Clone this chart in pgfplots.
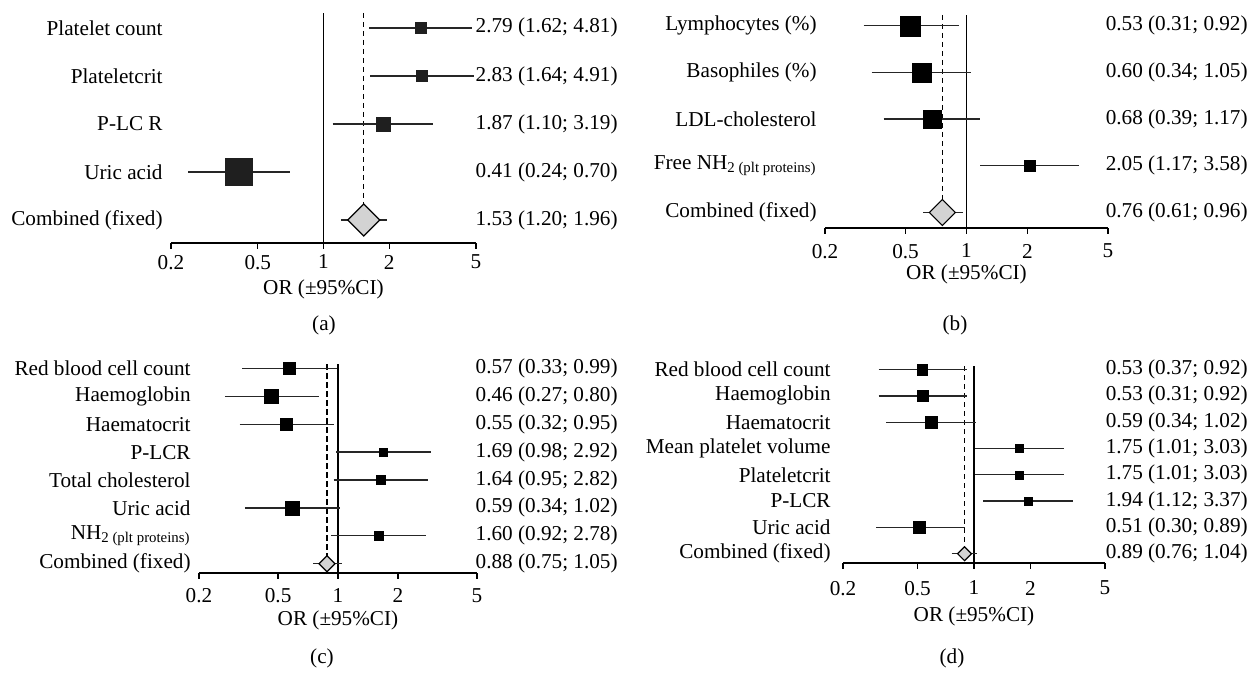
\documentclass[border=0pt]{standalone}
\usepackage{fontspec}
\setmainfont{Liberation Serif}
\usepackage{pgfplots}
\pgfplotsset{compat=1.18}
\definecolor{dia}{RGB}{211,211,211}
\colorlet{sq}{black}
\newcommand{\ff}{\fontsize{10.6}{12.5}\selectfont}
\newcommand{\frow}[5]{%
  \addplot[black!85, line width=0.65pt, mark=none] coordinates {(#3,#1) (#4,#1)};
  \addplot[only marks, mark=square*, mark size=#5, mark options={fill=sq, draw=sq, line width=0.2pt}] coordinates {(#2,#1)};
}
\newcommand{\fcomb}[5]{%
  \addplot[black!85, line width=0.65pt, mark=none] coordinates {(#3,#1) (#4,#1)};
  \addplot[only marks, mark=square*, mark size=#5, mark options={rotate=45, fill=dia, draw=black, line width=0.6pt}] coordinates {(#2,#1)};
}
\newcommand{\frefs}[3]{%
  \addplot[black, line width=0.65pt, mark=none] coordinates {(1,#2) (1,#3)};
  \addplot[black, line width=0.7pt, mark=none, dash pattern=on 2.6pt off 1.9pt] coordinates {(#1,#3) (#1,1)};
}
\begin{document}
\begin{tikzpicture}[font=\ff]
\useasboundingbox (0,0) rectangle (630pt,336.5pt);
% ---------- (a)
\colorlet{sq}{black!88}
\begin{axis}[scale only axis, xmode=log, xmin=0.2, xmax=5,
  xtick={0.2,0.5,1,2,5}, xticklabels={0.2,0.5,1,2,5},
  axis x line*=bottom, axis y line*=left,
  x axis line style={line width=0.65pt,-}, y axis line style={draw=none},
  ytick style={draw=none}, xtick style={line width=0.65pt, black},
  major tick length=2.8pt, xtick align=outside, clip=false, anchor=south west,
  yticklabel style={anchor=east, inner sep=0pt, xshift=-4pt},
  xticklabel style={anchor=north, inner sep=0pt, yshift=-3.0pt},
  xlabel={OR (±95\%CI)},
  xlabel style={at={(axis description cs:0.5,0)}, anchor=center, inner sep=0pt, yshift=-23pt},
  at={(85.5pt,215pt)}, width=152.5pt, height=115pt,
  ymin=0.521, ymax=5.31, ytick={1,2,3,4,5},
  yticklabels={Combined (fixed), Uric acid, P-LC R, Plateletcrit, Platelet count}]
\frefs{1.53}{0.521}{5.31}
\frow{5}{2.79}{1.62}{4.81}{2.75}
\frow{4}{2.83}{1.64}{4.91}{2.75}
\frow{3}{1.87}{1.10}{3.19}{3.5}
\frow{2}{0.41}{0.24}{0.70}{6.75}
\fcomb{1}{1.53}{1.20}{1.96}{5.66}
\node[anchor=east, inner sep=0pt] at (axis cs:22.38,5) {2.79 (1.62; 4.81)};
\node[anchor=east, inner sep=0pt] at (axis cs:22.38,4) {2.83 (1.64; 4.91)};
\node[anchor=east, inner sep=0pt] at (axis cs:22.38,3) {1.87 (1.10; 3.19)};
\node[anchor=east, inner sep=0pt] at (axis cs:22.38,2) {0.41 (0.24; 0.70)};
\node[anchor=east, inner sep=0pt] at (axis cs:22.38,1) {1.53 (1.20; 1.96)};
\end{axis}
% ---------- (b)
\colorlet{sq}{black}
\begin{axis}[scale only axis, xmode=log, xmin=0.2, xmax=5,
  xtick={0.2,0.5,1,2,5}, xticklabels={0.2,0.5,1,2,5},
  axis x line*=bottom, axis y line*=left,
  x axis line style={line width=0.65pt,-}, y axis line style={draw=none},
  ytick style={draw=none}, xtick style={line width=0.65pt, black},
  major tick length=2.8pt, xtick align=outside, clip=false, anchor=south west,
  yticklabel style={anchor=east, inner sep=0pt, xshift=-4pt},
  xticklabel style={anchor=north, inner sep=0pt, yshift=-5.0pt},
  xlabel={OR (±95\%CI)},
  xlabel style={at={(axis description cs:0.5,0)}, anchor=center, inner sep=0pt, yshift=-23pt},
  at={(412.5pt,222.5pt)}, width=141.5pt, height=106.5pt,
  ymin=0.668, ymax=5.23, ytick={1,2,3,4,5},
  yticklabels={Combined (fixed), Free NH\textsubscript{2 (plt proteins)}, LDL-cholesterol, Basophiles (\%), Lymphocytes (\%)}]
\frefs{0.76}{0.668}{5.23}
\frow{5}{0.53}{0.31}{0.92}{5}
\frow{4}{0.60}{0.34}{1.05}{4.75}
\frow{3}{0.68}{0.39}{1.17}{4.5}
\frow{2}{2.05}{1.17}{3.58}{2.75}
\fcomb{1}{0.76}{0.61}{0.96}{4.6}
\node[anchor=east, inner sep=0pt] at (axis cs:24.6,5) {0.53 (0.31; 0.92)};
\node[anchor=east, inner sep=0pt] at (axis cs:24.6,4) {0.60 (0.34; 1.05)};
\node[anchor=east, inner sep=0pt] at (axis cs:24.6,3) {0.68 (0.39; 1.17)};
\node[anchor=east, inner sep=0pt] at (axis cs:24.6,2) {2.05 (1.17; 3.58)};
\node[anchor=east, inner sep=0pt] at (axis cs:24.6,1) {0.76 (0.61; 0.96)};
\end{axis}
% ---------- (c)
\begin{axis}[scale only axis, xmode=log, xmin=0.2, xmax=5,
  xtick={0.2,0.5,1,2,5}, xticklabels={0.2,0.5,1,2,5},
  axis x line*=bottom, axis y line*=left,
  x axis line style={line width=0.65pt,-}, y axis line style={draw=none},
  ytick style={draw=none}, xtick style={line width=0.65pt, black},
  major tick length=2.8pt, xtick align=outside, clip=false, anchor=south west,
  yticklabel style={anchor=east, inner sep=0pt, xshift=-4pt},
  xticklabel style={anchor=north, inner sep=0pt, yshift=-4.6pt},
  xlabel={OR (±95\%CI)},
  xlabel style={at={(axis description cs:0.5,0)}, anchor=center, inner sep=0pt, yshift=-23.8pt},
  at={(99.5pt,50pt)}, width=139pt, height=104.25pt,
  ymin=0.667, ymax=8.14, ytick={1,...,8},
  yticklabels={Combined (fixed), NH\textsubscript{2 (plt proteins)}, Uric acid, Total cholesterol, P-LCR, Haematocrit, Haemoglobin, Red blood cell count}]
\frefs{0.88}{0.667}{8.14}
\frow{8}{0.57}{0.33}{0.99}{2.9}
\frow{7}{0.46}{0.27}{0.80}{3.6}
\frow{6}{0.55}{0.32}{0.95}{3.1}
\frow{5}{1.69}{0.98}{2.92}{2.1}
\frow{4}{1.64}{0.95}{2.82}{2.25}
\frow{3}{0.59}{0.34}{1.02}{3.6}
\frow{2}{1.60}{0.92}{2.78}{2.4}
\fcomb{1}{0.88}{0.75}{1.05}{2.83}
\node[anchor=east, inner sep=0pt] at (axis cs:25.6,8) {0.57 (0.33; 0.99)};
\node[anchor=east, inner sep=0pt] at (axis cs:25.6,7) {0.46 (0.27; 0.80)};
\node[anchor=east, inner sep=0pt] at (axis cs:25.6,6) {0.55 (0.32; 0.95)};
\node[anchor=east, inner sep=0pt] at (axis cs:25.6,5) {1.69 (0.98; 2.92)};
\node[anchor=east, inner sep=0pt] at (axis cs:25.6,4) {1.64 (0.95; 2.82)};
\node[anchor=east, inner sep=0pt] at (axis cs:25.6,3) {0.59 (0.34; 1.02)};
\node[anchor=east, inner sep=0pt] at (axis cs:25.6,2) {1.60 (0.92; 2.78)};
\node[anchor=east, inner sep=0pt] at (axis cs:25.6,1) {0.88 (0.75; 1.05)};
\end{axis}
% ---------- (d)
\begin{axis}[scale only axis, xmode=log, xmin=0.2, xmax=5,
  xtick={0.2,0.5,1,2,5}, xticklabels={0.2,0.5,1,2,5},
  axis x line*=bottom, axis y line*=left,
  x axis line style={line width=0.65pt,-}, y axis line style={draw=none},
  ytick style={draw=none}, xtick style={line width=0.65pt, black},
  major tick length=2.8pt, xtick align=outside, clip=false, anchor=south west,
  yticklabel style={anchor=east, inner sep=0pt, xshift=-6pt},
  xticklabel style={anchor=north, inner sep=0pt, yshift=-6.0pt},
  xlabel={OR (±95\%CI)},
  xlabel style={at={(axis description cs:0.5,0)}, anchor=center, inner sep=0pt, yshift=-26.5pt},
  at={(421.5pt,55pt)}, width=131pt, height=98.35pt,
  ymin=0.646, ymax=8.125, ytick={1,...,8},
  yticklabels={Combined (fixed), Uric acid, P-LCR, Plateletcrit, Mean platelet volume, Haematocrit, Haemoglobin, Red blood cell count}]
\frefs{0.89}{0.646}{8.125}
\frow{8}{0.53}{0.31}{0.92}{2.6}
\frow{7}{0.53}{0.31}{0.92}{2.75}
\frow{6}{0.59}{0.34}{1.02}{2.9}
\frow{5}{1.75}{1.01}{3.03}{2}
\frow{4}{1.75}{1.01}{3.03}{2}
\frow{3}{1.94}{1.12}{3.37}{1.9}
\frow{2}{0.51}{0.30}{0.89}{3}
\fcomb{1}{0.89}{0.76}{1.04}{2.47}
\node[anchor=east, inner sep=0pt] at (axis cs:29.0,8) {0.53 (0.37; 0.92)};
\node[anchor=east, inner sep=0pt] at (axis cs:29.0,7) {0.53 (0.31; 0.92)};
\node[anchor=east, inner sep=0pt] at (axis cs:29.0,6) {0.59 (0.34; 1.02)};
\node[anchor=east, inner sep=0pt] at (axis cs:29.0,5) {1.75 (1.01; 3.03)};
\node[anchor=east, inner sep=0pt] at (axis cs:29.0,4) {1.75 (1.01; 3.03)};
\node[anchor=east, inner sep=0pt] at (axis cs:29.0,3) {1.94 (1.12; 3.37)};
\node[anchor=east, inner sep=0pt] at (axis cs:29.0,2) {0.51 (0.30; 0.89)};
\node[anchor=east, inner sep=0pt] at (axis cs:29.0,1) {0.89 (0.76; 1.04)};
\end{axis}
% sub-labels
\node at (162pt,174pt) {(a)};
\node at (477.5pt,174pt) {(b)};
\node at (161pt,7.5pt) {(c)};
\node at (476pt,7.5pt) {(d)};
\end{tikzpicture}
\end{document}
